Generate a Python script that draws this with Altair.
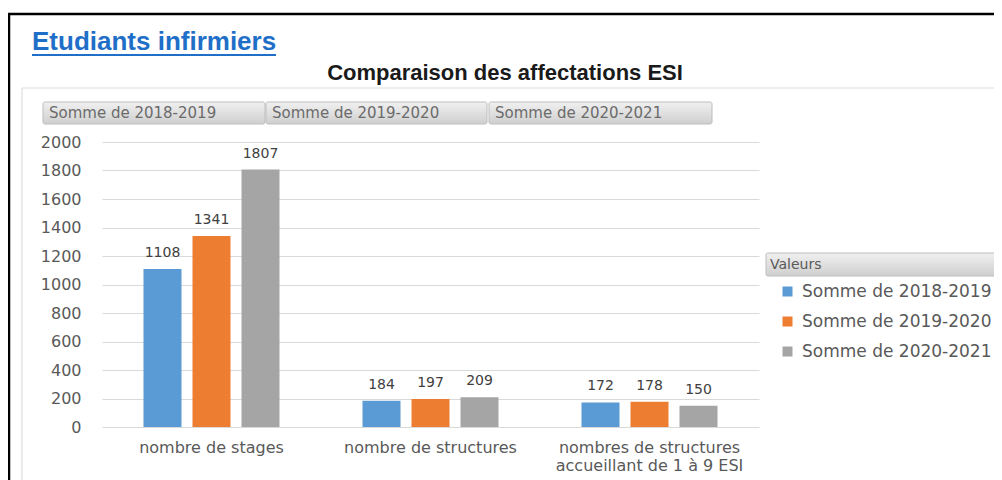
import altair as alt
import pandas as pd

# ---- data ----
categories = ["nombre de stages", "nombre de structures",
              "nombres de structures accueillant de 1 à 9 ESI"]
series = ["Somme de 2018-2019", "Somme de 2019-2020", "Somme de 2020-2021"]
v_2018_2019 = [1108, 184, 172]
v_2019_2020 = [1341, 197, 178]
v_2020_2021 = [1807, 209, 150]
colors = ["#5B9BD5", "#ED7D31", "#A5A5A5"]
y_ticks = list(range(0, 2001, 200))

main_title = "Etudiants infirmiers"
chart_title = "Comparaison des affectations ESI"
legend_header = "Valeurs"

rows = []
for s, vals in zip(series, [v_2018_2019, v_2019_2020, v_2020_2021]):
    for c, v in zip(categories, vals):
        rows.append({"cat": c, "serie": s, "val": v})
df = pd.DataFrame(rows)

FONT = "DejaVu Sans"
GRAY_TXT = "#595959"

x_enc = alt.X("cat:N", sort=categories,
              scale=alt.Scale(paddingInner=0, paddingOuter=0),
              axis=alt.Axis(title=None, labelAngle=0, domain=False, ticks=False, grid=False,
                            labelFontSize=16, labelColor=GRAY_TXT, labelFont=FONT,
                            labelPadding=12, labelLimit=0, labelLineHeight=18,
                            labelExpr="indexof(datum.label, ' accueillant') > 0 ? "
                                      "[slice(datum.label, 0, indexof(datum.label, ' accueillant')), "
                                      "slice(datum.label, indexof(datum.label, ' accueillant') + 1)] : datum.label"))
xo_enc = alt.XOffset("serie:N", sort=series,
                     scale=alt.Scale(paddingInner=0.2245, paddingOuter=0.847))
y_enc = alt.Y("val:Q", scale=alt.Scale(domain=[0, 2000], nice=False),
              axis=alt.Axis(title=None, values=y_ticks, domain=False, ticks=False,
                            grid=True, gridColor="#d9d9d9", labelFontSize=16,
                            labelColor=GRAY_TXT, labelFont=FONT, labelPadding=21,
                            labelOverlap=False, format="d"))

bars = alt.Chart(df).mark_bar().encode(
    x=x_enc, xOffset=xo_enc, y=y_enc,
    color=alt.Color("serie:N", sort=series,
                    scale=alt.Scale(domain=series, range=colors),
                    legend=alt.Legend(title=None, orient="none", legendX=677, legendY=141,
                                      padding=0, symbolType="square", symbolSize=100,
                                      symbolStrokeWidth=0, labelFontSize=17,
                                      labelColor=GRAY_TXT, labelFont=FONT,
                                      labelOffset=6, rowPadding=12, labelLimit=0)),
)

labels = alt.Chart(df).mark_text(dy=-16, baseline="middle", fontSize=14,
                                 font=FONT, color="#404040").encode(
    x=x_enc, xOffset=xo_enc, y=y_enc, text="val:Q")

one = pd.DataFrame({"k": [0]})


def rule(x, x2, y, y2, color, w):
    return alt.Chart(one).mark_rule(color=color, strokeWidth=w).encode(
        x=alt.value(x), x2=alt.value(x2), y=alt.value(y), y2=alt.value(y2))


def text(t, x, y, size, color, align="left", baseline="middle", weight="normal", font=FONT):
    return alt.Chart(one).mark_text(align=align, baseline=baseline, fontSize=size,
                                    color=color, fontWeight=weight, font=font,
                                    text=t).encode(x=alt.value(x), y=alt.value(y))


grad = alt.LinearGradient(gradient="linear",
                          stops=[alt.GradientStop(color="#f0f0f0", offset=0),
                                 alt.GradientStop(color="#cfcfcf", offset=1)],
                          x1=0, x2=0, y1=0, y2=1)


def button(x, x2, y, y2):
    return alt.Chart(one).mark_rect(fill=grad, stroke="#bdbdbd", strokeWidth=1,
                                    cornerRadius=2).encode(
        x=alt.value(x), x2=alt.value(x2), y=alt.value(y), y2=alt.value(y2))


deco = [
    # outer black frame
    rule(-93, -93, -128, 360, "#000000", 2.5),
    rule(-94, 900, -128, -128, "#000000", 2.5),
    # inner chart-area border
    rule(-80, 900, -54, -54, "#dedede", 1.2),
    rule(-80, -80, -54, 360, "#dedede", 1.2),
    # titles
    text(main_title, -70, -92, 26, "#1f6fc8", baseline="alphabetic", weight="bold",
         font="Liberation Sans"),
    rule(-70, 174, -87, -87, "#1f6fc8", 2),
    text(chart_title, 403, -62, 22, "#1a1a1a", align="center", baseline="alphabetic",
         weight="bold", font="Liberation Sans"),
]

btn_x = [(-59, 163), (164, 385), (387, 610)]
for (bx, bx2), s in zip(btn_x, series):
    deco.append(button(bx, bx2, -40, -18))
    deco.append(text(s, bx + 6, -29, 15, "#6b6b6b"))

deco.append(button(664, 910, 111, 134))
deco.append(text(legend_header, 668, 123, 14, GRAY_TXT))

chart = alt.layer(*deco, bars, labels).properties(
    width=657, height=285,
    background="white",
    padding={"left": 94, "top": 134, "right": 235, "bottom": 53},
    autosize=alt.AutoSizeParams(type="none"),
).configure_view(strokeWidth=0, stroke="transparent")

chart.save("out.html", embed_options={"renderer": "svg", "actions": False})
